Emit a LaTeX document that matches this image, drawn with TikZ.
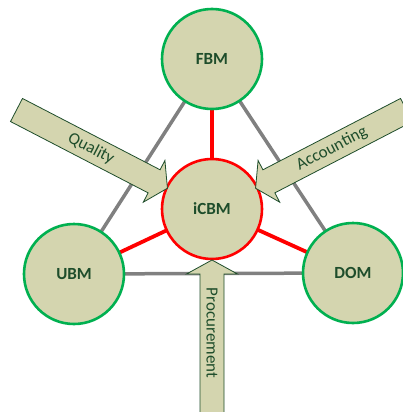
\documentclass[tikz,border=0pt]{standalone}
\usepackage{fontspec}
\setmainfont{Carlito}
\pgfdeclarelayer{background}
\pgfdeclarelayer{foreground}
\pgfsetlayers{background,main,foreground}
\definecolor{khaki}{HTML}{D4D5AF}
\definecolor{darkleaf}{HTML}{1E4D2B}
\definecolor{ringgreen}{HTML}{00B050}
\definecolor{linkgray}{HTML}{808080}
\tikzset{
  unit/.style={circle, minimum size=100pt, inner sep=0pt, fill=khaki,
    line width=2.6pt, text=darkleaf,
    font=\fontsize{17}{20}\selectfont\bfseries},
  outer/.style={unit, draw=ringgreen},
  core/.style={unit, draw=red},
  peerlink/.style={draw=linkgray, line width=3.5pt},
  corelink/.style={draw=red, line width=3.8pt},
  flowshape/.style={fill=khaki, draw=darkleaf, line width=0.8pt, line join=miter},
  flowlabel/.style={text=darkleaf, font=\fontsize{17}{20}\selectfont,
    inner sep=0pt, transform shape}
}
\begin{document}
\begin{tikzpicture}[x=1pt,y=1pt]
\useasboundingbox (0,0) rectangle (403,-412);

% the four units
\node[outer] (fbm)  at (212,-59)  {FBM};
\node[core]  (icbm) at (212,-209) {iCBM};
\node[outer] (ubm)  at (74,-274)  {UBM};
\node[outer] (dom)  at (353,-273) {DOM};

% links between units, kept behind the circles
\begin{pgfonlayer}{background}
  \draw[peerlink] (fbm.center) -- (ubm.center);
  \draw[peerlink] (fbm.center) -- (dom.center);
  \draw[peerlink] (ubm.center) -- (dom.center);
  \draw[corelink] (icbm.center) -- (fbm.center);
  \draw[corelink] (icbm.center) -- (ubm.center);
  \draw[corelink] (icbm.center) -- (dom.center);
\end{pgfonlayer}

% block arrows feeding into iCBM
\begin{pgfonlayer}{foreground}
  \begin{scope}[shift={(16.5,-110)}, rotate=-27.4]
    \draw[flowshape] (0,13) -- (155,13) -- (155,23.5) -- (170,0)
      -- (155,-23.5) -- (155,-13) -- (0,-13) -- cycle;
    \node[flowlabel] (quality) at (84,0) {Quality};
  \end{scope}
  \begin{scope}[shift={(406.5,-110)}, rotate=207.4]
    \draw[flowshape] (0,13) -- (155,13) -- (155,23.5) -- (170,0)
      -- (155,-23.5) -- (155,-13) -- (0,-13) -- cycle;
    \node[flowlabel, rotate=180] (accounting) at (84,0) {Accounting};
  \end{scope}
  \begin{scope}[shift={(212,-430)}, rotate=90]
    \draw[flowshape] (0,12) -- (156,12) -- (156,25.5) -- (170,0)
      -- (156,-25.5) -- (156,-12) -- (0,-12) -- cycle;
    \node[flowlabel, rotate=180] (procurement) at (97,0) {Procurement};
  \end{scope}
\end{pgfonlayer}
\end{tikzpicture}
\end{document}
